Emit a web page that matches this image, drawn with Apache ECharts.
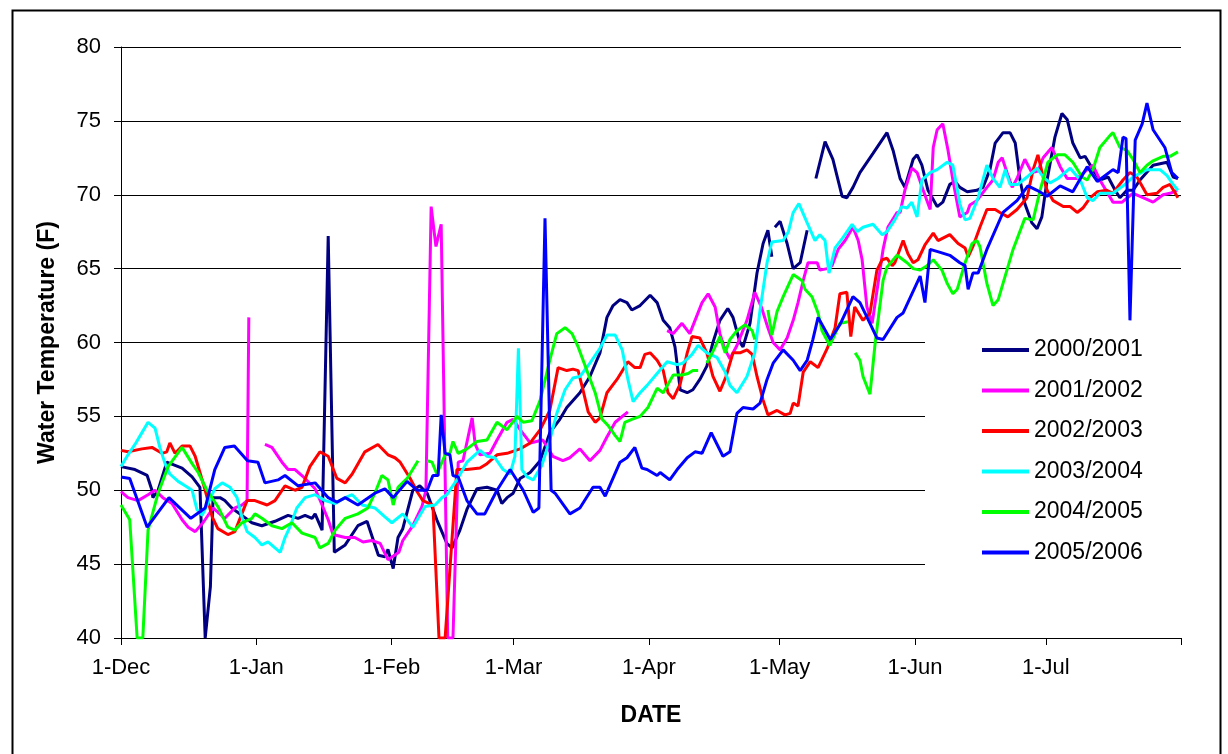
<!DOCTYPE html>
<html><head><meta charset="utf-8">
<script src="https://cdn.jsdelivr.net/npm/echarts@6/dist/echarts.min.js"></script>
<style>html,body{margin:0;padding:0;background:#fff}#c{width:1228px;height:754px}</style>
</head><body><div id="c"></div>
<script>
// x = days since 1-Dec ; null marks a gap in the record
const monthDays = [0, 31, 62, 90, 121, 151, 182, 212];
const monthLabels = ['1-Dec', '1-Jan', '1-Feb', '1-Mar', '1-Apr', '1-May', '1-Jun', '1-Jul'];
const seriesNames = ['2000/2001', '2001/2002', '2002/2003', '2003/2004', '2004/2005', '2005/2006'];

const s2000 = [[0,51.6],[3.2,51.4],[6,51.0],[7.1,50.0],[7.3,49.5],[8.5,50.0],[10.5,51.9],[14,51.5],[16.3,50.9],[18.1,50.2],[19.3,40],[20.5,43.5],[21.1,49.5],[22.7,49.5],[23.8,49.3],[25.4,48.8],[27.7,48.3],[30,47.8],[32.3,47.6],[35.3,47.9],[38.3,48.3],[40.6,48.1],[42.2,48.3],[43.8,48.1],[44.5,48.4],[46.1,47.3],[47.5,67.2],[48.9,45.8],[51.4,46.3],[54.3,47.6],[56.4,47.9],[59,45.6],[60.5,45.5],[61.2,46.0],[62.4,44.7],[63.5,46.8],[64.6,47.4],[66.9,50.0],[68.5,50.3],[70.2,49.8],[72.4,48.0],[74.7,46.4],[75.9,46.1],[77.7,47.3],[79.3,48.7],[81.6,50.1],[83.9,50.2],[86.2,50.0],[87.3,49.1],[88.5,49.5],[89.9,49.8],[91.5,50.8],[93.8,51.2],[96.1,52.0],[98.3,53.9],[100.6,54.8],[102.2,55.6],[105.2,56.6],[107.5,57.7],[109.8,59.3],[111.4,61.7],[112.8,62.5],[114.4,62.9],[116,62.7],[117.1,62.2],[119,62.5],[121.3,63.2],[122.9,62.7],[124.3,61.5],[125.8,61.0],[127,59.7],[128.2,56.8],[129.8,56.6],[131.1,56.8],[132.7,57.5],[134.3,58.4],[135.7,60.0],[137.3,61.5],[139.1,62.3],[140.3,61.7],[141.9,60.0],[142.6,59.7],[144.2,61.3],[145.8,64.7],[147.2,66.7],[148.3,67.6],[149.2,65.8],[149.6,null],[149.9,67.8],[151.1,68.2],[152.7,66.7],[154.1,65.0],[155.7,65.4],[157.3,67.6],[158.3,null],[159.3,71.1],[161.4,73.6],[163.2,72.4],[165.3,69.9],[166.4,69.8],[167.8,70.5],[169.4,71.5],[172.4,72.8],[175.6,74.2],[177,73.0],[178.6,71.1],[179.7,70.5],[181.6,72.4],[182.5,72.7],[183.6,72.0],[185,70.3],[187.1,69.2],[188.4,69.5],[190,70.7],[191.2,70.9],[192.3,70.5],[194,70.2],[196.2,70.3],[197.6,70.5],[199.2,71.7],[200.4,73.5],[202.2,74.2],[203.8,74.2],[205,73.5],[206.1,71.0],[207.2,69.4],[208.8,68.1],[210,67.7],[211.1,68.5],[212.3,71.0],[214.1,73.9],[215.7,75.5],[216.9,75.1],[218.2,73.5],[219.9,72.5],[221,72.6],[222.8,71.7],[224.4,71.0],[226.3,71.2],[227.9,70.3],[229,69.8],[230.6,70.3],[232,70.3],[233.6,71.0],[236.6,72.0],[239.8,72.2],[241.2,71.2],[242.3,71.1]];

const s2001 = [[0,49.9],[1.6,49.5],[3.9,49.3],[6.2,49.7],[7.8,50.0],[9.6,49.5],[11.7,49.1],[14,48.0],[15.4,47.5],[17,47.2],[18.8,47.8],[21.1,48.8],[23.8,48.1],[26.1,48.8],[27.7,49.0],[28.9,49.3],[29.3,61.7],[30,null],[33,53.1],[34.6,52.9],[36.9,51.9],[38.3,51.4],[39.9,51.4],[42.2,50.8],[44.5,50.1],[46.1,49.0],[47.5,48.0],[48.6,47.0],[51.4,46.8],[53.6,46.8],[55.5,46.5],[57.5,46.6],[59.4,46.4],[61.2,45.3],[63.7,45.8],[64.6,46.6],[66.9,47.6],[69,48.9],[69.9,50.0],[71.1,69.2],[72.2,66.5],[73.4,68.0],[74.9,40],[76.1,40],[77.3,51.9],[78.4,52.0],[80.5,54.9],[81.2,53.1],[82.3,52.4],[84.6,52.5],[86.2,53.4],[88.5,54.6],[89.9,54.8],[91.5,54.1],[93.8,53.2],[96.7,53.4],[99,52.3],[101.3,52.0],[102.9,52.2],[105.2,52.8],[107.5,52.0],[109.8,52.7],[111.4,53.6],[113.3,54.6],[116.2,55.3],[117,null],[125.2,60.8],[126.6,60.6],[128.6,61.3],[130.4,60.6],[133.2,62.7],[134.6,63.3],[136.2,62.4],[137.3,60.6],[138.5,59.5],[139.6,58.9],[141.2,59.8],[143.5,61.5],[145.3,63.4],[146.8,62.4],[148.3,61.0],[149.5,60.0],[151.1,59.5],[152.7,60.3],[154.1,61.5],[155.2,62.7],[156.4,64.2],[157.5,65.4],[159.6,65.4],[160.2,64.9],[161.9,65.0],[163,65.2],[164.4,66.3],[166,66.9],[167.8,67.8],[169,66.9],[169.9,65.6],[171,62.4],[172.2,61.3],[173.3,63.5],[174.7,66.3],[175.8,67.8],[177.9,68.8],[178.6,68.8],[179.7,70.3],[181.3,71.8],[182.5,71.5],[183.9,70.3],[185.5,69.0],[186.2,73.2],[187.1,74.4],[188.4,74.8],[189.6,73.0],[190.7,71.0],[192.3,68.5],[194,68.8],[194.6,69.3],[196.2,69.6],[198.5,70.5],[199.9,71.0],[201.1,72.2],[202,72.5],[203.1,71.5],[204.3,70.5],[205.4,71.1],[207.2,72.4],[208.8,71.5],[210.2,71.6],[211.4,72.5],[213.4,73.2],[215.3,71.9],[216.9,71.1],[219.2,71.1],[221.5,71.7],[222.8,72.0],[224.4,71.0],[226,70.2],[227.4,69.5],[229.5,69.5],[232,70.1],[234.3,69.8],[236.6,69.5],[238.9,70.0],[240.5,70.1],[242.1,70.3]];

const s2002 = [[0,52.7],[1.6,52.6],[4.8,52.8],[7.1,52.9],[9.4,52.5],[10.5,52.6],[11.2,53.2],[12.4,52.5],[14,53.0],[15.8,53.0],[17,52.3],[18.1,51.2],[19.3,50.0],[20.9,48.2],[22.2,47.4],[24.5,47.0],[26.1,47.2],[27.7,48.4],[28.9,49.3],[30.7,49.3],[33.5,49.0],[35.3,49.3],[37.6,50.3],[39.9,50.0],[41.5,50.2],[43.3,51.6],[45.6,52.6],[47.5,52.3],[49.5,50.8],[51.4,50.5],[53,51.1],[55.9,52.6],[58.9,53.1],[61.2,52.4],[62.8,52.2],[64,51.9],[66.3,50.8],[67.9,49.9],[69.2,49.3],[71.5,49.0],[72.9,40],[74.3,40],[77,51.4],[79.3,51.4],[82.3,51.5],[83.9,51.8],[86.2,52.4],[88.5,52.5],[91.5,52.8],[93.8,53.2],[96.1,54.1],[98.3,55.4],[100.2,58.3],[102.2,58.1],[103.6,58.2],[104.8,58.1],[105.9,56.8],[107.1,55.3],[108.7,54.6],[109.8,54.9],[111.4,56.6],[113.7,57.5],[116.2,58.7],[117.8,58.3],[119,58.3],[120.1,59.2],[121.3,59.3],[122.9,58.8],[124.3,58.1],[125.4,56.6],[126.6,56.2],[128.2,57.2],[129.8,59.3],[130.9,60.4],[132.7,60.3],[134.3,59.3],[135.7,57.7],[137.3,56.7],[138.7,57.7],[140.3,59.3],[141.9,59.3],[143.5,59.5],[144.7,59.2],[145.8,57.7],[147.2,56.1],[148.3,55.1],[150.4,55.4],[152.2,55.1],[153.4,55.2],[154.1,55.9],[155.2,55.7],[156.4,58.0],[158,58.7],[159.8,58.3],[161.9,59.6],[163.7,61.0],[164.8,63.3],[166.4,63.4],[167.3,60.4],[168.2,62.4],[170.1,61.5],[171.7,62.0],[173.3,64.9],[174.5,65.6],[175.6,65.7],[176.8,65.2],[177.4,65.4],[179.3,66.9],[180.4,66.0],[181.6,65.4],[182.7,65.6],[184.3,66.6],[186.2,67.4],[187.3,66.9],[190,67.3],[191.9,66.7],[193.5,66.4],[194.2,65.8],[195.3,66.5],[196.9,67.8],[198.5,69.0],[200.4,69.0],[201.5,68.8],[203.3,68.5],[205.4,69.0],[207.7,69.8],[209.1,71.7],[210.2,72.7],[211.4,71.2],[212.3,70.3],[213.7,69.6],[216,69.2],[217.6,69.2],[219.2,68.8],[220.5,69.1],[222.2,69.8],[223.8,70.2],[226,70.3],[227.4,70.1],[229.7,71.0],[231.3,71.5],[232.9,71.2],[235.2,70.0],[237.5,70.1],[238.9,70.5],[240.5,70.7],[242.3,69.8]];

const s2003 = [[0,51.6],[1.6,52.4],[3.2,53.1],[4.8,53.9],[6.2,54.6],[7.8,54.2],[8.9,52.9],[10.1,51.8],[11.2,51.1],[13.1,50.6],[14.7,50.3],[16.3,50.0],[17.4,48.7],[18.6,48.3],[19.9,49.1],[21.5,50.1],[23.2,50.5],[25,50.2],[26.6,49.5],[27.7,48.2],[28.9,47.2],[30.7,46.8],[32.3,46.3],[33.7,46.5],[35.3,46.1],[36.5,45.8],[37.6,46.8],[38.7,47.5],[40.3,48.8],[42.2,49.5],[44.5,49.7],[46.8,49.3],[49.1,49.1],[51.4,49.5],[53,49.7],[55.3,49.0],[58.2,48.8],[60.5,48.2],[62.1,47.8],[64.6,48.4],[66.9,47.5],[69.7,48.9],[72,49.0],[73.6,49.5],[74.7,49.7],[77,50.7],[79.3,51.9],[82.3,52.7],[83.9,52.3],[85.7,52.2],[87.6,51.4],[89.2,51.1],[90.3,52.3],[91.1,59.6],[91.9,51.4],[93.1,50.9],[94.5,50.7],[96.5,51.7],[98.3,53.4],[99.9,55.2],[101.8,56.8],[103.6,57.6],[105.2,57.7],[107.5,58.6],[109.8,59.6],[111.4,60.5],[113.3,60.5],[114.9,59.5],[116.2,57.5],[117.4,56.0],[119,56.6],[120.6,57.1],[122.9,57.9],[125.2,58.7],[127.5,58.5],[128.8,58.6],[130.9,59.2],[132.3,59.8],[134.3,59.3],[136.6,59.0],[138.5,58.0],[139.6,57.1],[141.2,56.6],[143.5,57.7],[145.3,59.3],[146.5,62.2],[148.1,65.4],[149.2,66.8],[151.8,66.9],[153,67.5],[154.1,68.8],[155.4,69.4],[157.3,68.1],[159.1,66.9],[160.2,67.3],[161.4,66.9],[162.3,64.7],[163.7,66.4],[165.5,67.1],[167.6,68.0],[168.8,67.5],[170.1,67.8],[172.4,68.0],[174.5,67.3],[175.6,67.5],[177.4,68.3],[179,69.2],[180.2,69.1],[181.3,69.5],[182.5,68.5],[183.6,71.0],[185.5,71.5],[187.1,71.7],[189.4,72.2],[190.7,72.0],[192.3,69.4],[193.5,68.3],[194.6,68.4],[196.5,69.8],[198.5,72.0],[199.9,71.1],[201.5,70.5],[202.7,71.7],[203.8,70.7],[205.6,70.7],[207.7,71.2],[210,71.8],[211.4,71.2],[213,70.8],[214.8,71.1],[217.6,71.8],[219.9,71.0],[221.5,69.8],[222.8,69.6],[224.4,70.1],[227.4,70.1],[230.6,70.8],[232,71.2],[235.2,71.7],[238.2,71.7],[239.8,71.3],[241.2,70.7],[242.3,70.3]];

const s2004 = [[0,49.0],[2,48.0],[3.7,40],[5,40],[6.2,47.3],[8.5,49.8],[10.8,51.6],[14,52.9],[16.3,51.8],[17.7,51.2],[19.7,50.0],[22.2,48.9],[24.5,47.5],[26.1,47.3],[27.7,47.8],[30,48.1],[30.7,48.4],[32.3,48.1],[34.6,47.6],[36.9,47.4],[39.2,47.8],[41.5,47.1],[44.5,46.8],[45.6,46.1],[47.5,46.4],[49.1,47.3],[51.4,48.1],[54.3,48.4],[56.6,48.8],[58.2,49.8],[59.8,51.0],[61.2,50.7],[62.4,49.0],[63.5,50.2],[65.6,50.8],[68.1,52.0],[69,null],[70.2,52.0],[71.3,51.9],[72.4,51.1],[74.3,52.4],[75.4,52.5],[76.1,53.3],[77.3,52.5],[79.3,52.8],[81.6,53.3],[83.9,53.4],[86.2,54.6],[88.5,54.1],[90.8,55.0],[92.2,54.6],[94.2,54.7],[96.1,56.1],[98.3,58.8],[99.9,60.6],[101.8,61.0],[103.4,60.6],[104.8,59.7],[106.8,58.1],[108.7,56.6],[110.3,54.8],[111.6,54.4],[113.3,53.7],[114.4,53.3],[115.5,54.6],[117.1,54.8],[119,55.0],[120.8,55.6],[122.9,56.9],[124.3,56.6],[126.6,57.8],[128.6,57.8],[130,57.9],[131.1,58.1],[132.3,58.1],[133.3,null],[134.3,58.6],[135.7,59.4],[137.3,60.4],[138.5,59.3],[139.6,60.2],[141.2,60.8],[143.1,61.2],[144.7,60.8],[145.3,60.2],[146.5,null],[148.3,62.2],[149.2,60.5],[150.4,62.1],[151.8,63.1],[154.1,64.6],[156.1,64.2],[156.8,63.6],[158.4,63.1],[159.8,62.0],[160.7,60.8],[162.5,59.8],[164.8,61.3],[166.7,61.4],[167.5,null],[168.3,59.3],[169.4,58.8],[170.1,57.7],[171.7,56.5],[172.9,60.0],[174.7,64.2],[175.6,65.1],[177.9,65.9],[180.2,65.4],[181.6,65.0],[183.2,64.9],[184.8,65.2],[186.2,65.6],[188.2,64.9],[189.4,64.0],[190.7,63.3],[191.7,63.6],[193.5,65.4],[195.1,66.7],[196.2,66.9],[196.9,66.5],[198.5,64.0],[199.9,62.5],[201.1,62.9],[202.2,64.0],[204.5,66.3],[207.2,68.4],[209.1,68.3],[210.7,70.3],[212.5,72.2],[214.6,72.7],[216.4,72.7],[218.2,72.2],[220.3,71.2],[221.5,71.0],[222.8,71.7],[224.4,73.2],[226.7,74.0],[227.4,74.2],[229,73.2],[230.6,73.0],[232,72.4],[233.6,71.5],[235.2,72.0],[236.6,72.3],[238.9,72.6],[240.5,72.6],[242.3,72.9]];

const s2005 = [[0,50.9],[2,50.8],[6,47.5],[11,49.5],[16,48.1],[19.3,48.8],[21.5,51.4],[23.8,52.9],[26,53.0],[29,52.0],[31.4,51.9],[33,50.5],[36,50.7],[37.6,51.0],[40.6,50.3],[44.5,50.5],[47.5,49.5],[49.5,49.2],[51.4,49.5],[54.3,49.0],[58.2,49.8],[60.5,50.1],[62.4,49.5],[65.6,50.6],[67.9,50.0],[70.2,50.0],[71.5,51.0],[72.7,51.0],[73.4,55.1],[74.3,52.5],[75.4,52.4],[76.1,51.0],[77.3,50.9],[79.3,49.3],[81.6,48.4],[83.4,48.4],[86.2,50.0],[89.2,51.4],[92.2,50.0],[94.5,48.5],[95.8,48.8],[97.2,68.4],[98.6,50.0],[99.5,49.8],[102.9,48.4],[105.2,48.8],[108.2,50.2],[109.8,50.2],[111,49.6],[114.4,51.9],[116,52.2],[117.8,52.9],[119.4,51.5],[120.6,51.4],[122.9,51.0],[123.6,51.2],[125.8,50.7],[127.5,51.4],[129.8,52.2],[131.6,52.6],[133.2,52.5],[135.3,53.9],[138,52.3],[139.6,52.6],[141.2,55.2],[142.6,55.6],[144.9,55.5],[146.5,55.9],[148.1,57.5],[149.5,58.6],[151.8,59.5],[154.1,58.8],[155.7,58.1],[157.3,58.8],[158.6,60.2],[159.8,61.7],[162.6,60.2],[164.8,61.2],[167.8,63.1],[169.4,62.7],[171.7,61.3],[173.3,60.3],[174.7,60.2],[177.9,61.7],[179.3,62.0],[183.2,64.5],[184.3,62.7],[185.5,66.3],[187.8,66.1],[190,65.9],[192.3,65.4],[193.5,65.2],[194.2,63.6],[195.3,64.7],[196.5,64.7],[198.5,66.3],[202.2,68.8],[205.4,69.6],[207.9,70.6],[210,70.3],[212.3,69.9],[215.3,70.6],[218.2,70.2],[221.5,71.9],[223.8,70.9],[227.4,71.7],[228.6,71.5],[229.7,73.9],[230.4,73.8],[231.3,61.5],[232.5,73.7],[234.1,74.8],[235.2,76.2],[236.6,74.4],[239.3,73.2],[240.9,71.5],[242.3,71.1]];

const seriesData = [s2000, s2001, s2002, s2003, s2004, s2005];
const colors = ['#000080', '#FF00FF', '#FF0000', '#00FFFF', '#00FF00', '#0000FF'];

const FONT = 'Arial, "Liberation Sans", sans-serif';
const chart = echarts.init(document.getElementById('c'), null, {renderer: 'canvas'});
const labelMap = {};
monthDays.forEach((d, i) => { labelMap[d] = monthLabels[i]; });

chart.setOption({
  backgroundColor: '#fff',
  animation: false,
  color: colors,
  graphic: [{
    type: 'rect', left: 10, top: 8, silent: true,
    shape: {x: 0, y: 0, width: 1208, height: 770},
    style: {fill: 'none', stroke: '#000', lineWidth: 2}
  }],
  grid: {left: 121, right: 47, top: 47, bottom: 116, containLabel: false},
  legend: {
    orient: 'vertical',
    left: 925, top: 326,
    padding: [11, 39, 12, 57],
    backgroundColor: '#fff',
    icon: 'rect',
    itemWidth: 47, itemHeight: 4, itemGap: 14.5,
    data: seriesNames,
    textStyle: {fontFamily: FONT, fontSize: 23, color: '#000', lineHeight: 26}
  },
  xAxis: {
    type: 'value', min: 0, max: 243,
    name: 'DATE', nameLocation: 'middle', nameGap: 66,
    nameTextStyle: {fontFamily: FONT, fontSize: 23, fontWeight: 'bold', color: '#000'},
    axisLine: {show: true, onZero: false, lineStyle: {color: '#000', width: 1}},
    axisTick: {show: true, length: 7, customValues: monthDays.concat([243]), lineStyle: {color: '#000'}},
    axisLabel: {
      customValues: monthDays, margin: 19,
      fontFamily: FONT, fontSize: 22, color: '#000',
      formatter: v => labelMap[v] || ''
    },
    splitLine: {show: false}
  },
  yAxis: {
    type: 'value', min: 40, max: 80, interval: 5,
    name: 'Water Temperature (F)', nameLocation: 'middle', nameGap: 62,
    nameTextStyle: {fontFamily: FONT, fontSize: 23, fontWeight: 'bold', color: '#000'},
    axisLine: {show: true, lineStyle: {color: '#000', width: 1}},
    axisTick: {show: true, length: 7, lineStyle: {color: '#000'}},
    axisLabel: {margin: 20, fontFamily: FONT, fontSize: 22, color: '#000'},
    splitLine: {show: true, lineStyle: {color: '#000', width: 1}}
  },
  series: seriesNames.map((n, i) => ({
    name: n, type: 'line', data: seriesData[i],
    symbol: 'none', showSymbol: false, connectNulls: false, clip: true,
    lineStyle: {width: 3, color: colors[i]},
    itemStyle: {color: colors[i]}
  }))
});
</script></body></html>
